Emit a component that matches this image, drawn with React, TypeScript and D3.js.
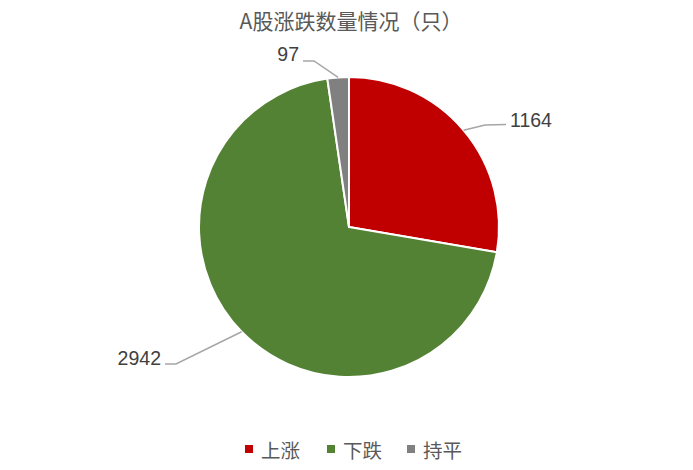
import React from "react";
import * as d3 from "d3";

const categories = ["上涨", "下跌", "持平"];
const values = [1164, 2942, 97];
const colors = ["#C00000", "#548235", "#808080"];
const titleText = "A股涨跌数量情况（只）";

const W = 693;
const H = 470;
const cx = 349;
const cy = 227;
const R = 150;

// label layout: [elbow x, elbow y, end x, end y, text x, text y, anchor]
const labelLayout: [number, number, number, number, number, number, string][] = [
  [485, 125, 506, 124.5, 510, 120, "start"],
  [176, 364, 165, 364, 161, 357.5, "end"],
  [314, 61, 303, 61, 299, 54, "end"],
];

export default function App() {
  const pie = d3.pie<number>().sort(null).startAngle(0).endAngle(2 * Math.PI);
  const arcs = pie(values);
  const arc = d3.arc<d3.PieArcDatum<number>>().innerRadius(0).outerRadius(R);
  const mid = (a: d3.PieArcDatum<number>) => (a.startAngle + a.endAngle) / 2;

  const legendX = [245, 327, 407];

  return (
    <svg width={W} height={H} style={{ position: "absolute", left: 0, top: 0, background: "#fff" }}>
      <text
        x={351}
        y={29}
        textAnchor="middle"
        fontFamily="'Noto Sans CJK SC', sans-serif"
        fontSize={21}
        fill="#595959"
      >
        {titleText}
      </text>
      <g transform={`translate(${cx},${cy})`}>
        {arcs.map((a, i) => (
          <path key={i} d={arc(a) || ""} fill={colors[i]} stroke="#fff" strokeWidth={2} strokeLinejoin="round" />
        ))}
      </g>
      {arcs.map((a, i) => {
        const m = mid(a);
        const sx = cx + R * Math.sin(m);
        const sy = cy - R * Math.cos(m);
        const [ex, ey, fx, fy, tx, ty, anchor] = labelLayout[i];
        return (
          <g key={i}>
            <polyline
              points={`${sx},${sy} ${ex},${ey} ${fx},${fy}`}
              fill="none"
              stroke="#A6A6A6"
              strokeWidth={1.5}
            />
            <text
              x={tx}
              y={ty}
              textAnchor={anchor as any}
              dominantBaseline="central"
              fontFamily="'Liberation Sans', Arial, sans-serif"
              fontSize={19.5}
              fill="#404040"
            >
              {d3.format("d")(values[i])}
            </text>
          </g>
        );
      })}
      {categories.map((c, i) => (
        <g key={c}>
          <rect x={legendX[i]} y={445} width={8} height={8} fill={colors[i]} />
          <text
            x={legendX[i] + 16}
            y={449}
            dominantBaseline="central"
            fontFamily="'Noto Sans CJK SC', sans-serif"
            fontSize={19.5}
            fill="#595959"
          >
            {c}
          </text>
        </g>
      ))}
    </svg>
  );
}
